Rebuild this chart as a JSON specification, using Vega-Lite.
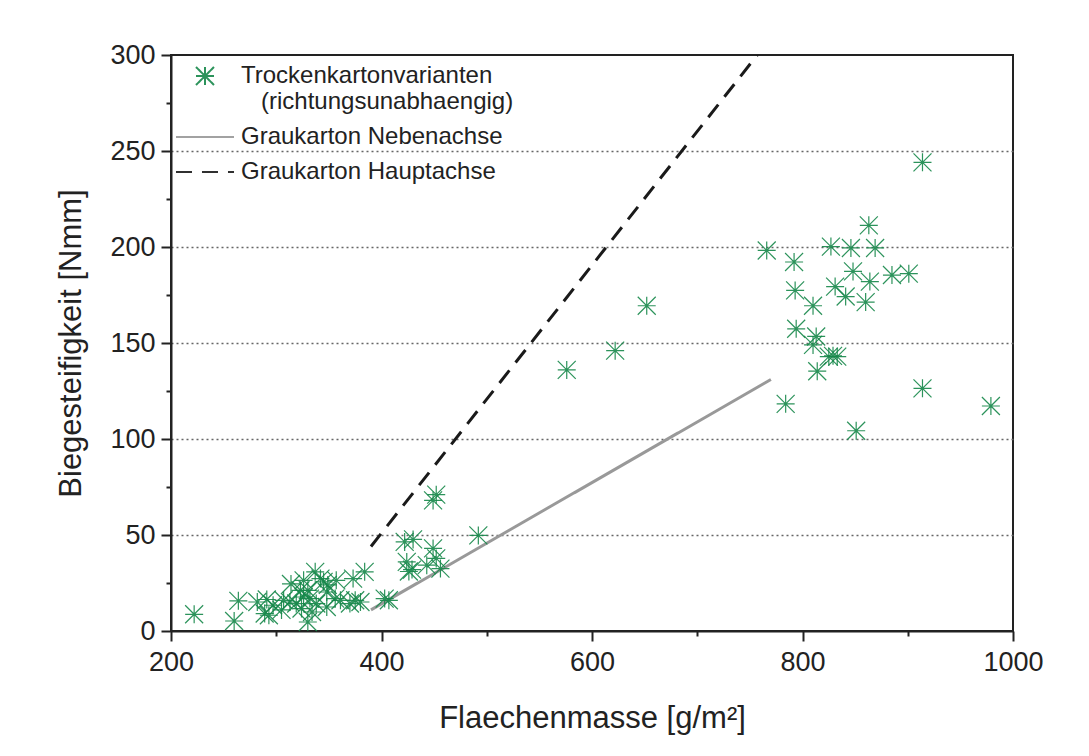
{
  "$schema": "https://vega.github.io/schema/vega-lite/v6.json",
  "width": 842,
  "height": 576,
  "autosize": "none",
  "padding": {"left": 171, "top": 55, "right": 76, "bottom": 125},
  "background": "white",
  "config": {
    "font": "Liberation Sans",
    "view": {"stroke": "#222222", "strokeWidth": 2}
  },
  "datasets": {
    "pts": [
      {"m": 222, "s": 8.7}, {"m": 260, "s": 5.2}, {"m": 264, "s": 15.7}, {"m": 282, "s": 15.1},
      {"m": 291, "s": 16.4}, {"m": 289, "s": 9.1}, {"m": 293, "s": 8.2}, {"m": 297, "s": 13.4},
      {"m": 307, "s": 16}, {"m": 313, "s": 15.1}, {"m": 314, "s": 24.5}, {"m": 319, "s": 14.3},
      {"m": 323, "s": 21.2}, {"m": 326, "s": 17.7}, {"m": 330, "s": 21.2}, {"m": 332, "s": 16.9},
      {"m": 334, "s": 9.9}, {"m": 330, "s": 4.7}, {"m": 337, "s": 30.8}, {"m": 342, "s": 27.3},
      {"m": 345, "s": 25.6}, {"m": 338, "s": 14.3}, {"m": 348, "s": 20.3}, {"m": 357, "s": 26.4},
      {"m": 356, "s": 16.9}, {"m": 361, "s": 16}, {"m": 370, "s": 14.3}, {"m": 373, "s": 27.3},
      {"m": 375, "s": 16}, {"m": 380, "s": 15.1}, {"m": 384, "s": 30.8}, {"m": 403, "s": 16.9},
      {"m": 407, "s": 16}, {"m": 324, "s": 11.7}, {"m": 348, "s": 12.5}, {"m": 326, "s": 26.4},
      {"m": 349, "s": 24}, {"m": 305, "s": 11}, {"m": 422, "s": 46.4}, {"m": 430, "s": 47.7},
      {"m": 449, "s": 43}, {"m": 424, "s": 36}, {"m": 429, "s": 32}, {"m": 426, "s": 31},
      {"m": 443, "s": 34.3}, {"m": 452, "s": 37.8}, {"m": 456, "s": 32.5}, {"m": 449, "s": 68},
      {"m": 452, "s": 71}, {"m": 492, "s": 49.8},
      {"m": 576, "s": 136}, {"m": 622, "s": 146}, {"m": 652, "s": 169.4}, {"m": 766, "s": 198.2},
      {"m": 792, "s": 192.2}, {"m": 793, "s": 177.4}, {"m": 810, "s": 169.4}, {"m": 827, "s": 200.2},
      {"m": 846, "s": 199.5}, {"m": 869, "s": 199.5}, {"m": 863, "s": 211.3}, {"m": 848, "s": 187.3},
      {"m": 864, "s": 182}, {"m": 831, "s": 179.4}, {"m": 841, "s": 174.2}, {"m": 860, "s": 171.3},
      {"m": 885, "s": 185.4}, {"m": 901, "s": 186.1}, {"m": 794, "s": 157.4}, {"m": 813, "s": 153.4},
      {"m": 810, "s": 149}, {"m": 825, "s": 142.9}, {"m": 829, "s": 143.3}, {"m": 833, "s": 142.9},
      {"m": 814, "s": 135.3}, {"m": 784, "s": 118.3}, {"m": 914, "s": 126.4}, {"m": 979, "s": 117.2},
      {"m": 851, "s": 104.3}, {"m": 914, "s": 244.1}
    ],
    "lines": [
      {"series": "Graukarton Nebenachse", "m": 390, "s": 11},
      {"series": "Graukarton Nebenachse", "m": 770, "s": 131},
      {"series": "Graukarton Hauptachse", "m": 390, "s": 44},
      {"series": "Graukarton Hauptachse", "m": 757, "s": 300}
    ]
  },
  "layer": [
    {
      "data": {"name": "lines"},
      "mark": {"type": "line", "clip": true, "strokeWidth": 3},
      "encoding": {
        "x": {
          "field": "m", "type": "quantitative",
          "scale": {"domain": [200, 1000], "nice": false},
          "axis": {
            "title": "Flaechenmasse [g/m²]",
            "values": [200, 300, 400, 500, 600, 700, 800, 900, 1000],
            "format": "d",
            "labelExpr": "datum.value % 200 == 0 ? datum.label : ''",
            "tickSize": {"condition": {"test": "datum.value % 200 == 0", "value": 10}, "value": 5},
            "grid": false,
            "labelFontSize": 27, "titleFontSize": 31, "titleFontWeight": "normal",
            "labelColor": "#222222", "titleColor": "#222222",
            "domainColor": "#222222", "tickColor": "#222222",
            "domainWidth": 2, "tickWidth": 2,
            "labelPadding": 8, "titlePadding": 28, "labelFlush": false
          }
        },
        "y": {
          "field": "s", "type": "quantitative",
          "scale": {"domain": [0, 300], "nice": false},
          "axis": {
            "title": "Biegesteifigkeit [Nmm]",
            "values": [0, 25, 50, 75, 100, 125, 150, 175, 200, 225, 250, 275, 300],
            "format": "d",
            "labelExpr": "datum.value % 50 == 0 ? datum.label : ''",
            "tickSize": {"condition": {"test": "datum.value % 50 == 0", "value": 10}, "value": 5},
            "grid": true,
            "gridDash": [2, 3], "gridColor": "#666666", "gridWidth": 1.5,
            "gridOpacity": {"condition": {"test": "datum.value % 50 == 0 && datum.value > 0 && datum.value < 300", "value": 1}, "value": 0},
            "labelFontSize": 27, "titleFontSize": 31, "titleFontWeight": "normal",
            "labelColor": "#222222", "titleColor": "#222222",
            "domainColor": "#222222", "tickColor": "#222222",
            "domainWidth": 2, "tickWidth": 2,
            "labelPadding": 6, "titlePadding": 22, "labelFlush": false
          }
        },
        "color": {
          "field": "series", "type": "nominal",
          "scale": {
            "domain": ["Trockenkartonvarianten", "Graukarton Nebenachse", "Graukarton Hauptachse"],
            "range": ["#16884a", "#999999", "#1a1a1a"]
          },
          "legend": {
            "title": null,
            "orient": "none",
            "legendX": 22,
            "legendY": 9,
            "padding": 0,
            "rowPadding": 11,
            "labelFontSize": 24,
            "labelColor": "#222222",
            "labelLimit": 0,
            "labelOffset": 24,
            "symbolStrokeWidth": 2,
            "labelExpr": "datum.label == 'Trockenkartonvarianten' ? ['Trockenkartonvarianten', '\u200b\u00a0\u00a0\u00a0(richtungsunabhaengig)'] : datum.label"
          }
        },
        "strokeDash": {
          "field": "series", "type": "nominal",
          "scale": {
            "domain": ["Trockenkartonvarianten", "Graukarton Nebenachse", "Graukarton Hauptachse"],
            "range": [[1, 0], [1, 0], [16, 10]]
          }
        }
      }
    },
    {
      "data": {"name": "pts"},
      "transform": [{"calculate": "'Trockenkartonvarianten'", "as": "series"}],
      "mark": {"type": "point", "filled": false, "opacity": 0.9, "strokeWidth": 1.2},
      "encoding": {
        "x": {"field": "m", "type": "quantitative"},
        "y": {"field": "s", "type": "quantitative"},
        "color": {"field": "series", "type": "nominal"},
        "shape": {
          "field": "series", "type": "nominal",
          "scale": {
            "domain": ["Trockenkartonvarianten", "Graukarton Nebenachse", "Graukarton Hauptachse"],
            "range": ["M-1,0L1,0M0,-1L0,1M-1,-1L1,1M-1,1L1,-1", "M-3,0L3,0", "M-3,0L3,0"]
          }
        },
        "size": {
          "field": "series", "type": "nominal",
          "scale": {
            "type": "ordinal",
            "domain": ["Trockenkartonvarianten", "Graukarton Nebenachse", "Graukarton Hauptachse"],
            "range": [324, 374, 374]
          }
        }
      }
    }
  ]
}
